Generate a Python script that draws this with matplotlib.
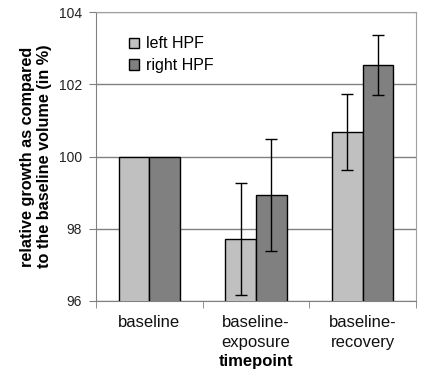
import matplotlib
matplotlib.use("Agg")
import matplotlib.pyplot as plt
import numpy as np
from matplotlib.patches import Rectangle

categories = ["baseline", "baseline-\nexposure", "baseline-\nrecovery"]
left_hpf = [100.0, 97.72, 100.67]
left_err = [0.0, 1.55, 1.05]
right_hpf = [100.0, 98.93, 102.53]
right_err = [0.0, 1.55, 0.82]
yticks = [96, 98, 100, 102, 104]

plt.rcParams['font.family'] = ['Liberation Sans', 'DejaVu Sans']

fig = plt.figure(figsize=(4.21, 3.73), dpi=100)
ax = fig.add_axes([96/421, 72/373, 320/421, 289/373])

x = np.arange(len(categories))
w = 0.286
ax.bar(x - w/2, left_hpf, w, color="#C0C0C0", edgecolor="black", linewidth=1.0, zorder=3, label="left HPF")
ax.bar(x + w/2, right_hpf, w, color="#808080", edgecolor="black", linewidth=1.0, zorder=3, label="right HPF")
for xi, v, e in zip(x - w/2, left_hpf, left_err):
    if e > 0:
        ax.errorbar(xi, v, yerr=e, fmt="none", ecolor="black", elinewidth=1.0, capsize=4, capthick=1.0, zorder=4)
for xi, v, e in zip(x + w/2, right_hpf, right_err):
    if e > 0:
        ax.errorbar(xi, v, yerr=e, fmt="none", ecolor="black", elinewidth=1.0, capsize=4, capthick=1.0, zorder=4)

ax.set_xlim(-0.5, 2.5)
ax.set_ylim(96, 104)
ax.set_yticks(yticks)
ax.set_yticklabels([str(t) for t in yticks], fontsize=10, color="#222222")
ax.yaxis.grid(True, color="#808080", linewidth=1.0, zorder=0)
ax.set_axisbelow(True)

ax.set_xticks(x)
ax.set_xticklabels(categories, fontsize=12, linespacing=1.45, color="#111111")
ax.tick_params(axis="x", length=0, pad=10)
ax.set_xticks([-0.5, 0.5, 1.5, 2.5], minor=True)
ax.tick_params(axis="x", which="minor", length=5, direction="out", color="#808080")
ax.tick_params(axis="y", length=5, direction="out", color="#808080", pad=5)

for s in ["top", "right"]:
    ax.spines[s].set_color("#A0A0A0")
for s in ["left", "bottom"]:
    ax.spines[s].set_color("#808080")

ax.set_xlabel("timepoint", fontsize=12, fontweight="bold", labelpad=3)
ax.set_ylabel("relative growth as compared\nto the baseline volume (in %)", fontsize=11.7,
              fontweight="bold", labelpad=5, linespacing=1.15)

handles = [Rectangle((0, 0), 1, 1, facecolor="#C0C0C0", edgecolor="black"),
           Rectangle((0, 0), 1, 1, facecolor="#808080", edgecolor="black")]
ax.legend(handles, ["left HPF", "right HPF"], loc="upper left", bbox_to_anchor=(0.057, 0.965),
          frameon=False, fontsize=11.5, handlelength=0.62, handleheight=0.62, handletextpad=0.45,
          labelspacing=0.42)

fig.savefig("out.png", dpi=100)
